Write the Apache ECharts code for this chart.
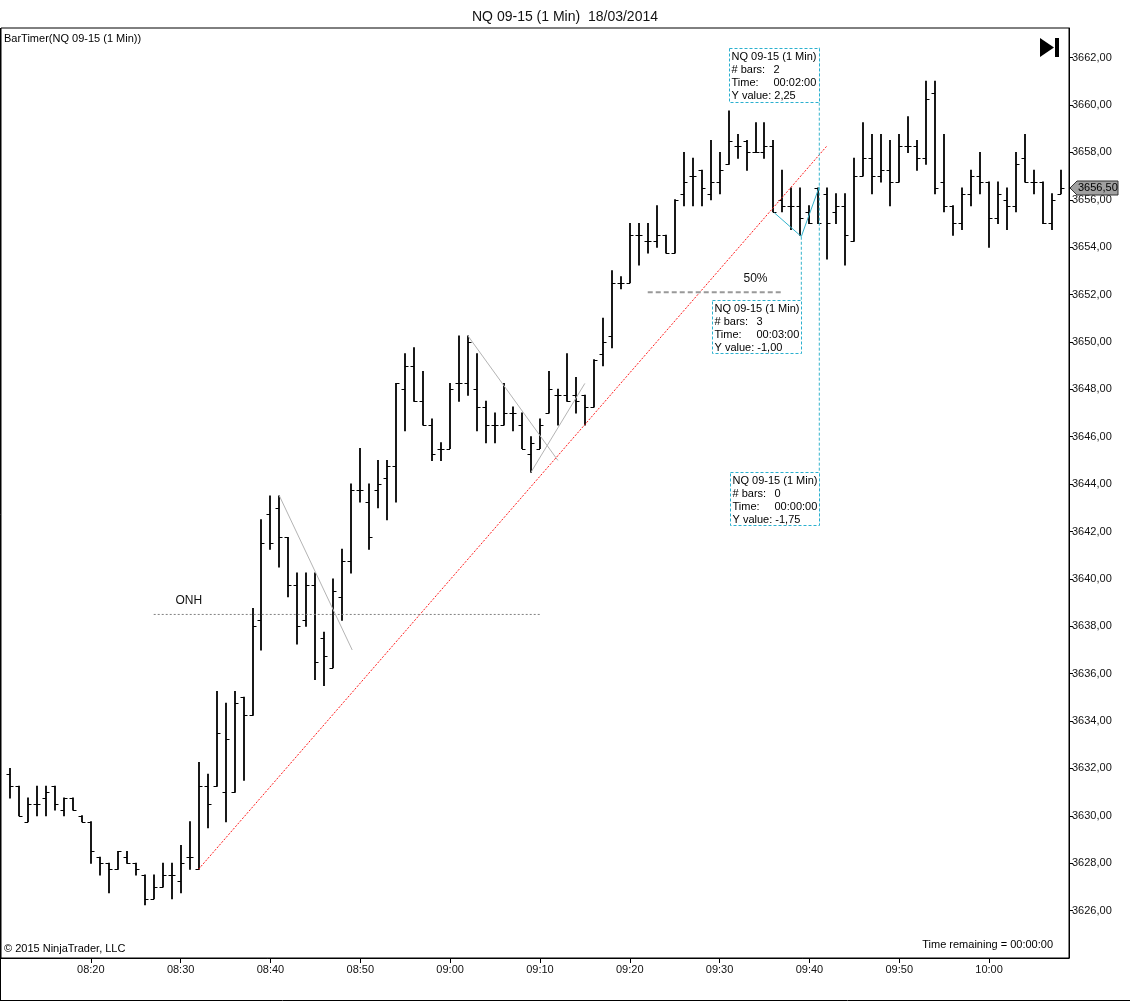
<!DOCTYPE html>
<html>
<head>
<meta charset="utf-8">
<script src="https://cdn.jsdelivr.net/npm/echarts@6/dist/echarts.min.js"></script>
<style>
html,body{margin:0;padding:0;background:#fff;}
#c{width:1130px;height:1002px;}
</style>
</head>
<body>
<div id="c"></div>
<script>
// ---- data ----
const times = ["08:11","08:12","08:13","08:14","08:15","08:16","08:17","08:18","08:19","08:20",
"08:21","08:22","08:23","08:24","08:25","08:26","08:27","08:28","08:29","08:30",
"08:31","08:32","08:33","08:34","08:35","08:36","08:37","08:38","08:39","08:40",
"08:41","08:42","08:43","08:44","08:45","08:46","08:47","08:48","08:49","08:50",
"08:51","08:52","08:53","08:54","08:55","08:56","08:57","08:58","08:59","09:00",
"09:01","09:02","09:03","09:04","09:05","09:06","09:07","09:08","09:09","09:10",
"09:11","09:12","09:13","09:14","09:15","09:16","09:17","09:18","09:19","09:20",
"09:21","09:22","09:23","09:24","09:25","09:26","09:27","09:28","09:29","09:30",
"09:31","09:32","09:33","09:34","09:35","09:36","09:37","09:38","09:39","09:40",
"09:41","09:42","09:43","09:44","09:45","09:46","09:47","09:48","09:49","09:50",
"09:51","09:52","09:53","09:54","09:55","09:56","09:57","09:58","09:59","10:00",
"10:01","10:02","10:03","10:04","10:05","10:06","10:07","10:08"];

const opens = [3631.75,3631.25,3629.75,3630.5,3630.75,3631.25,3630.25,3630.75,3630.0,3629.75,
3628.25,3628.0,3627.75,3628.25,3628.0,3627.5,3626.5,3627.0,3627.5,3627.25,
3628.25,3627.75,3631.25,3631.25,3631.0,3631.0,3635.0,3634.25,3638.25,3642.75,
3643.0,3641.75,3639.75,3638.25,3639.75,3637.5,3636.25,3639.25,3640.75,3643.75,
3643.25,3643.75,3644.25,3644.75,3648.0,3649.0,3647.5,3646.5,3645.5,3645.5,
3648.25,3648.25,3648.0,3647.25,3646.5,3646.5,3647.0,3646.5,3645.25,3645.5,
3647.0,3647.75,3647.75,3647.75,3647.75,3647.25,3649.5,3650.25,3652.5,3652.5,
3654.5,3654.25,3654.25,3654.5,3653.75,3656.25,3657.0,3657.25,3656.25,3656.75,
3657.5,3658.25,3658.5,3658.0,3658.0,3658.25,3656.0,3655.75,3655.75,3655.5,
3656.5,3656.25,3655.5,3655.75,3654.25,3657.0,3657.75,3657.0,3657.25,3656.75,
3658.25,3658.25,3657.75,3660.5,3656.75,3655.75,3655.0,3656.25,3657.0,3656.75,
3655.25,3656.0,3655.75,3657.75,3656.75,3656.75,3655.0,3656.25];

const highs = [3632.0,3631.25,3630.75,3631.25,3631.25,3631.25,3630.75,3630.75,3630.0,3629.75,
3628.25,3628.0,3628.5,3628.5,3628.0,3627.5,3627.5,3628.0,3628.0,3628.75,
3629.75,3632.25,3631.75,3635.25,3634.75,3635.25,3635.0,3638.75,3642.5,3643.5,
3643.5,3641.75,3640.25,3640.25,3640.25,3637.75,3640.0,3641.25,3644.0,3645.5,
3644.0,3645.0,3645.0,3648.25,3649.5,3649.75,3648.75,3646.75,3645.75,3648.25,
3650.25,3650.25,3649.5,3647.5,3647.0,3648.25,3647.25,3647.0,3646.0,3646.75,
3648.75,3648.0,3649.5,3648.5,3647.75,3649.25,3651.0,3653.0,3652.75,3655.0,
3655.0,3655.0,3655.75,3654.5,3656.0,3658.0,3657.75,3657.25,3658.5,3658.0,
3659.75,3658.75,3658.5,3659.25,3659.25,3658.5,3657.25,3656.5,3656.5,3655.75,
3656.5,3656.5,3656.25,3656.25,3657.75,3659.25,3658.75,3658.75,3658.5,3658.75,
3659.5,3658.5,3661.0,3661.0,3658.75,3655.75,3656.5,3657.25,3658.0,3656.75,
3656.75,3656.5,3658.0,3658.75,3657.25,3656.75,3656.25,3657.25];

const lows = [3630.75,3630.0,3629.75,3630.0,3630.0,3630.25,3630.0,3630.25,3629.75,3628.0,
3627.5,3626.75,3627.75,3628.0,3627.5,3626.25,3626.5,3627.0,3626.5,3626.75,
3627.75,3627.75,3629.5,3631.25,3629.75,3631.0,3631.5,3634.25,3637.0,3641.25,
3640.5,3639.25,3637.25,3638.0,3635.75,3635.5,3636.25,3638.25,3640.25,3643.25,
3641.25,3643.0,3642.5,3643.25,3646.25,3647.5,3646.5,3645.0,3645.0,3645.5,
3647.5,3647.75,3646.25,3645.75,3645.75,3646.5,3646.25,3645.5,3644.5,3645.5,
3647.0,3646.5,3647.5,3647.0,3646.5,3647.25,3649.0,3649.75,3652.25,3652.5,
3653.25,3653.75,3654.0,3653.75,3653.75,3655.75,3655.75,3655.75,3656.0,3656.25,
3657.5,3657.75,3657.25,3658.0,3657.75,3655.5,3655.5,3654.75,3654.5,3655.0,
3655.0,3653.5,3655.0,3653.25,3654.25,3657.0,3656.25,3656.75,3655.75,3656.75,
3658.0,3657.25,3657.5,3656.25,3655.5,3654.5,3654.75,3655.75,3656.25,3654.0,
3655.0,3654.75,3655.5,3656.75,3656.25,3655.0,3654.75,3656.25];

const closes = [3631.25,3630.0,3630.5,3630.5,3631.0,3630.5,3630.75,3630.25,3629.75,3628.5,
3628.0,3627.75,3628.5,3628.0,3627.75,3626.5,3627.0,3627.5,3627.5,3628.0,
3628.25,3631.25,3630.5,3633.5,3633.25,3634.75,3634.25,3638.0,3641.5,3641.5,
3641.75,3639.75,3638.0,3639.75,3636.5,3636.75,3639.5,3640.75,3643.75,3643.75,
3641.75,3644.0,3644.75,3648.25,3649.0,3647.5,3646.5,3645.25,3645.5,3648.0,
3648.25,3650.0,3647.25,3646.5,3646.5,3647.0,3647.0,3645.5,3645.75,3646.5,
3648.0,3647.75,3647.5,3647.5,3647.25,3649.25,3650.0,3652.5,3652.5,3654.5,
3654.5,3654.25,3654.5,3653.75,3656.0,3656.75,3657.0,3656.5,3656.75,3657.25,
3658.5,3658.25,3658.0,3658.0,3658.25,3655.5,3655.75,3655.75,3655.25,3655.0,
3655.0,3655.0,3655.75,3654.5,3657.0,3657.75,3657.0,3657.25,3656.75,3658.25,
3658.25,3657.75,3660.25,3656.5,3655.75,3655.0,3656.25,3657.0,3656.75,3655.25,
3656.25,3655.75,3657.5,3656.75,3656.75,3655.0,3656.0,3656.5];

const lastPrice = 3656.50;

// ---- helpers ----
const toMin = s => { const p = s.split(':').map(Number); return p[0]*60 + p[1]; };
const fmtTime = v => { const h = Math.floor(v/60), m = Math.round(v%60); return String(h).padStart(2,'0') + ':' + String(m).padStart(2,'0'); };
const fmtPrice = v => v.toFixed(2).replace('.', ',');
const FONT = '"Liberation Sans", Arial, sans-serif';

const ohlc = times.map((t,i) => [toMin(t), opens[i], highs[i], lows[i], closes[i]]);

// ---- drawing-tool annotations (time in minutes, price) ----
const drawLines = [
  {pts:[[512,3627.75],[581.9,3658.25]], color:'#ff1a1a', width:1, type:[2,1.5]},
  {pts:[[507,3638.5],[550,3638.5]], color:'#808080', width:1, type:[2,2]},
  {pts:[[521,3643.5],[529.1,3637.0]], color:'#b4b4b4', width:1, type:'solid'},
  {pts:[[542,3650.25],[552,3645.0]], color:'#b4b4b4', width:1, type:'solid'},
  {pts:[[549,3644.5],[555,3648.25]], color:'#b4b4b4', width:1, type:'solid'},
  {pts:[[562,3652.1],[577.1,3652.1]], color:'#999999', width:2, type:[5,3]},
  {pts:[[576.1,3655.45],[579.1,3654.45],[581.1,3656.55]], color:'#33b3cc', width:1, type:'solid'},
  {pts:[[581.1,3662.42],[581.1,3642.29]], color:'#33b3cc', width:1, type:[3,2]},
  {pts:[[579.1,3654.44],[579.1,3651.75]], color:'#33b3cc', width:1, type:[3,2]}
];
const infoBoxes = [
  {at:[571.1,3662.42], w:90, h:54, bars:'2', time:'00:02:00', yv:'2,25'},
  {at:[569.1,3651.75], w:89, h:53, bars:'3', time:'00:03:00', yv:'-1,00'},
  {at:[571.2,3644.52], w:89, h:53, bars:'0', time:'00:00:00', yv:'-1,75'}
];
const labels = [
  {text:'ONH', at:[510.9,3639.1]},
  {text:'50%', at:[574.0,3652.67]}
];

const chart = echarts.init(document.getElementById('c'), null, {renderer:'canvas'});

const series = [{
  type:'custom',
  data: ohlc,
  encode:{x:0, y:[1,2,3,4]},
  z: 3,
  renderItem: function(params, api){
    const t = api.value(0);
    const ph = api.coord([t, api.value(2)]);
    const pl = api.coord([t, api.value(3)]);
    const po = api.coord([t, api.value(1)]);
    const pc = api.coord([t, api.value(4)]);
    const x = Math.round(ph[0]);
    const yo = Math.round(po[1]) + 0.5, yc = Math.round(pc[1]) + 0.5;
    return {type:'group', children:[
      {type:'line', shape:{x1:x, y1:ph[1]-0.5, x2:x, y2:pl[1]+0.5}, style:{stroke:'#000', lineWidth:1.8}},
      {type:'line', shape:{x1:x-3.5, y1:yo, x2:x, y2:yo}, style:{stroke:'#000', lineWidth:1}},
      {type:'line', shape:{x1:x, y1:yc, x2:x+3.5, y2:yc}, style:{stroke:'#000', lineWidth:1}}
    ]};
  }
}];
drawLines.forEach(d => series.push({
  type:'line', data:d.pts, symbol:'none', silent:true, z:4,
  lineStyle:{color:d.color, width:d.width, type:d.type}
}));

chart.setOption({
  animation:false,
  backgroundColor:'#fff',
  title:{text:'NQ 09-15 (1 Min)  18/03/2014', left:560, textAlign:'center', top:5,
    textStyle:{fontFamily:FONT, fontSize:14, fontWeight:'normal', color:'#111'}},
  grid:{left:1, right:61, top:28, bottom:44, show:true, borderColor:'#000', borderWidth:1, backgroundColor:'#fff'},
  xAxis:{type:'value', min:490, max:608.9, interval:10,
    axisLine:{show:true, lineStyle:{color:'#000'}},
    axisTick:{show:true, length:5, lineStyle:{color:'#000'}},
    axisLabel:{formatter:fmtTime, fontFamily:FONT, fontSize:11, color:'#111', margin:6,
      showMinLabel:false, showMaxLabel:false},
    splitLine:{show:false}},
  yAxis:{type:'value', position:'right', min:3624, max:3663.25, interval:2,
    axisLine:{show:true, lineStyle:{color:'#000'}},
    axisTick:{show:true, length:4, lineStyle:{color:'#000'}},
    axisLabel:{formatter:fmtPrice, fontFamily:FONT, fontSize:11, color:'#111', margin:3,
      showMinLabel:false, showMaxLabel:false},
    splitLine:{show:false}},
  series: series
});

// ---- overlay graphics anchored to data coordinates ----
const g = [];
const px = p => chart.convertToPixel({gridIndex:0}, p);
infoBoxes.forEach(b => {
  const p = px(b.at);
  const x = Math.round(p[0]) + 0.5, y = Math.round(p[1]) + 0.5;
  g.push({type:'rect', shape:{x:x, y:y, width:b.w, height:b.h}, z:10,
    style:{fill:'#fff', stroke:'#2bb0cf', lineWidth:1, lineDash:[3,2]}});
  const ts = {fontFamily:FONT, fontSize:11, fill:'#000', textVerticalAlign:'middle', textBaseline:'middle'};
  const rows = [['NQ 09-15 (1 Min)', null], ['# bars:', b.bars], ['Time:', b.time], ['Y value: ' + b.yv, null]];
  rows.forEach((r,i) => {
    const yy = y + 8 + i*13;
    g.push({type:'text', z:11, style:Object.assign({text:r[0], x:x+2, y:yy}, ts)});
    if (r[1] !== null) g.push({type:'text', z:11, style:Object.assign({text:r[1], x:x+44, y:yy}, ts)});
  });
});
labels.forEach(l => {
  const p = px(l.at);
  g.push({type:'text', z:11, style:{text:l.text, x:p[0], y:p[1], textAlign:'center', textVerticalAlign:'middle',
    textBaseline:'middle', fontFamily:FONT, fontSize:12, fill:'#111'}});
});
// price tag on the axis
const tp = px([600, lastPrice]);
const ax = 1069, ty = Math.round(tp[1]);
g.push({type:'polygon', z:12, shape:{points:[[ax+1,ty],[ax+8,ty-7],[ax+49,ty-7],[ax+49,ty+7],[ax+8,ty+7]]},
  style:{fill:'#a0a0a0', stroke:'#333', lineWidth:1}});
g.push({type:'text', z:13, style:{text:fmtPrice(lastPrice), x:ax+9, y:ty, textVerticalAlign:'middle', textBaseline:'middle',
  fontFamily:FONT, fontSize:11, fill:'#000'}});
// texts
g.push({type:'text', z:11, style:{text:'BarTimer(NQ 09-15 (1 Min))', x:4, y:39, textVerticalAlign:'middle', textBaseline:'middle',
  fontFamily:FONT, fontSize:11, fill:'#000'}});
g.push({type:'text', z:11, style:{text:'\u00A9 2015 NinjaTrader, LLC', x:4, y:949, textVerticalAlign:'middle', textBaseline:'middle',
  fontFamily:FONT, fontSize:11, fill:'#000'}});
g.push({type:'text', z:11, style:{text:'Time remaining = 00:00:00', x:1053, y:945, textAlign:'right', textVerticalAlign:'middle', textBaseline:'middle',
  fontFamily:FONT, fontSize:11, fill:'#000'}});
// play-to-end icon
g.push({type:'polygon', z:11, shape:{points:[[1040,38],[1040,57],[1054,47.5]]}, style:{fill:'#000'}});
g.push({type:'rect', z:11, shape:{x:1055, y:38, width:4, height:19}, style:{fill:'#000'}});
// outer frame
g.push({type:'line', z:11, shape:{x1:0, y1:1000.5, x2:1130, y2:1000.5}, style:{stroke:'#000', lineWidth:1}});
g.push({type:'line', z:11, shape:{x1:0.5, y1:28, x2:0.5, y2:1001}, style:{stroke:'#000', lineWidth:1}});

chart.setOption({graphic:g});
</script>
</body>
</html>
